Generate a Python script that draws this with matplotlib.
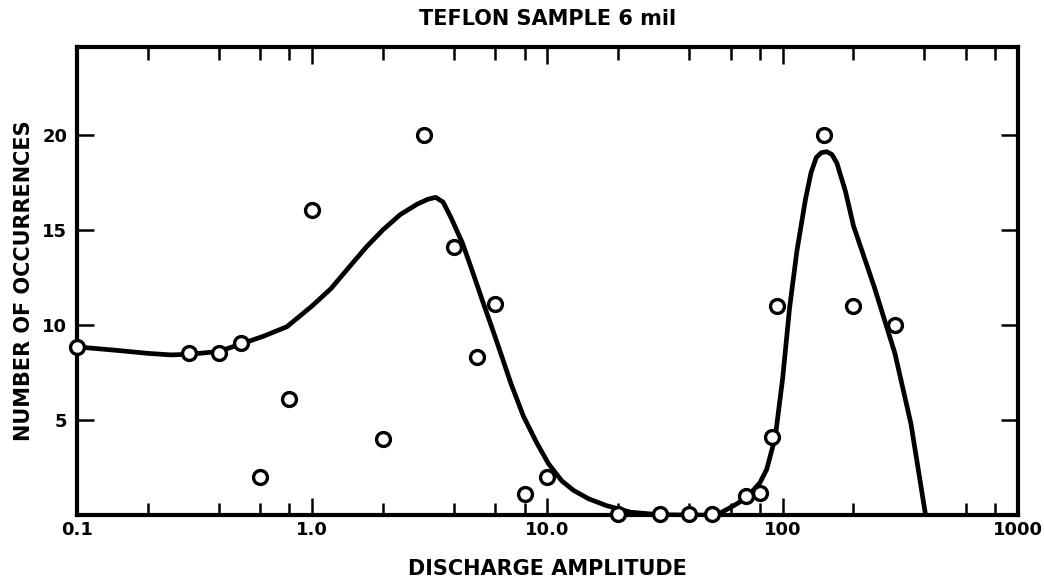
import matplotlib
matplotlib.use('Agg')
import matplotlib.pyplot as plt
from matplotlib.ticker import LogLocator, FixedLocator, NullFormatter

# measured points (open circles)
amp = [0.1, 0.3, 0.4, 0.5, 0.6, 0.8, 1.0, 2.0, 3.0, 4.0, 5.0, 6.0, 8.0, 10.0,
       20, 30, 40, 50, 70, 80, 90, 95, 150, 200, 300]
count = [8.85, 8.5, 8.5, 9.05, 2.0, 6.1, 16.05, 4.0, 20.0, 14.1, 8.3, 11.1, 1.1, 2.0,
         0.05, 0.05, 0.05, 0.05, 1.0, 1.15, 4.1, 11.0, 20.0, 11.0, 10.0]

# hand drawn fit curve
curve_x = [0.1, 0.15, 0.2, 0.25, 0.3, 0.4, 0.5, 0.62, 0.78, 1.0, 1.2, 1.45, 1.7, 2.0,
           2.37, 2.8, 3.1, 3.35, 3.6, 3.9, 4.35, 4.8, 5.28, 5.75, 6.25, 7.0, 7.9, 9.0,
           10.1, 11.5, 12.9, 15.0, 17.8, 22.6, 30, 40, 50, 55, 59, 65, 73, 80, 85.5,
           93, 100, 107, 115, 125, 132, 139, 146, 154, 162, 170, 185, 200, 245, 300,
           351, 405]
curve_y = [8.84, 8.65, 8.5, 8.42, 8.45, 8.6, 9.0, 9.4, 9.9, 11.0, 11.9, 13.1, 14.1, 15.0,
           15.8, 16.35, 16.6, 16.7, 16.45, 15.6, 14.3, 12.8, 11.3, 10.0, 8.7, 6.9, 5.2, 3.8,
           2.7, 1.8, 1.3, 0.85, 0.5, 0.15, 0.02, 0.0, 0.0, 0.15, 0.35, 0.65, 1.15, 1.7, 2.4,
           4.1, 7.2, 10.9, 13.9, 16.6, 18.0, 18.8, 19.05, 19.1, 18.95, 18.5, 17.0, 15.2, 12.0, 8.5,
           4.8, 0.0]

x_ticks = [0.1, 1.0, 10.0, 100, 1000]
x_labels = ['0.1', '1.0', '10.0', '100', '1000']
y_ticks = [5, 10, 15, 20]
y_labels = ['5', '10', '15', '20']

plt.rcParams['font.family'] = 'DejaVu Sans'
plt.rcParams['font.weight'] = 'bold'

fig = plt.figure(figsize=(10.44, 5.88), dpi=100)
ax = fig.add_axes([0.0738, 0.124, 0.9012, 0.796])

ax.plot(curve_x, curve_y, color='black', lw=3.4, solid_joinstyle='round', zorder=2)
ax.plot(amp, count, linestyle='none', marker='o', ms=10, mfc='white', mec='black',
        mew=2.4, zorder=3, clip_on=False)

ax.set_xscale('log')
ax.set_xlim(0.1, 1000)
ax.set_ylim(0, 24.6)

ax.xaxis.set_major_locator(FixedLocator(x_ticks))
ax.set_xticklabels(x_labels)
ax.xaxis.set_minor_locator(LogLocator(base=10, subs=(2, 4, 6, 8)))
ax.xaxis.set_minor_formatter(NullFormatter())
ax.set_yticks(y_ticks)
ax.set_yticklabels(y_labels)

ax.tick_params(which='major', direction='in', length=12, width=1.8, top=True, right=True,
               labelsize=13)
ax.tick_params(axis='x', which='major', pad=4)
ax.tick_params(axis='y', which='major', pad=7)
ax.tick_params(which='minor', direction='in', length=9, width=1.8, top=True, right=True)

for s in ax.spines.values():
    s.set_linewidth(3)

ax.set_title('TEFLON SAMPLE 6 mil', fontsize=15, fontweight='bold', pad=16)
ax.set_xlabel('DISCHARGE AMPLITUDE', fontsize=15, fontweight='bold', labelpad=15)
ax.set_ylabel('NUMBER OF OCCURRENCES', fontsize=15, fontweight='bold', labelpad=6)

fig.savefig('out.png', dpi=100)
